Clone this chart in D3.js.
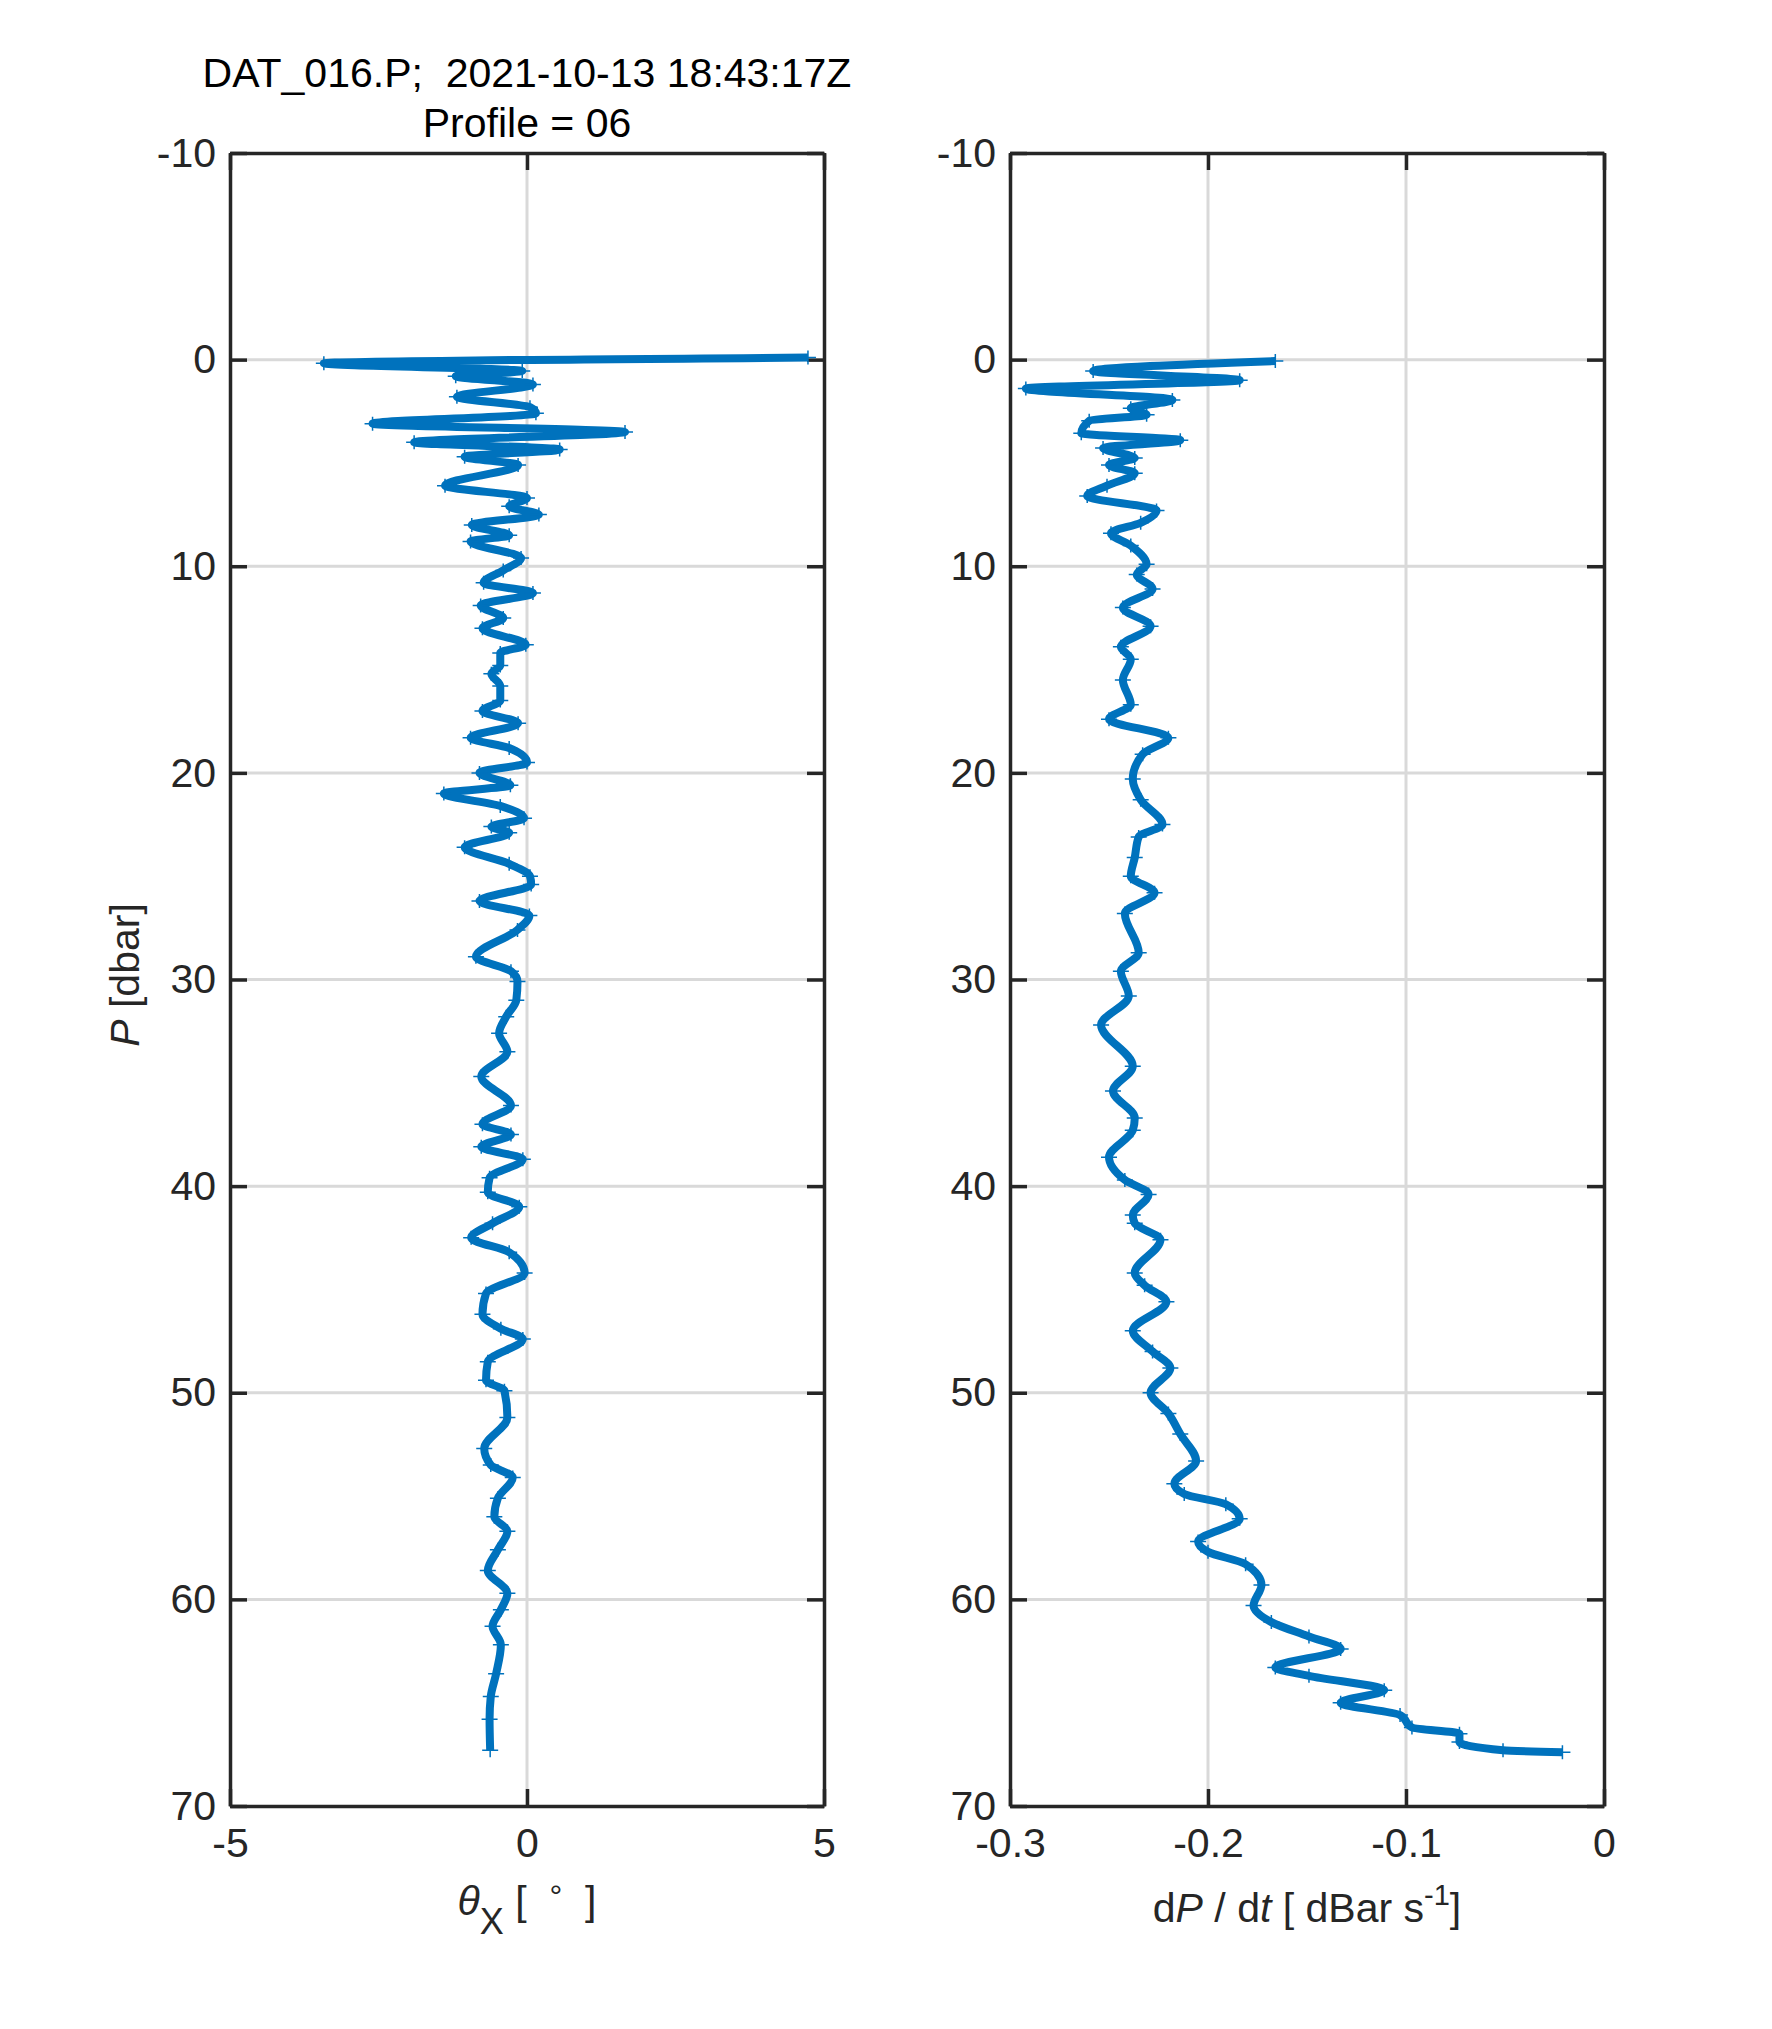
<!DOCTYPE html>
<html>
<head>
<meta charset="utf-8">
<script src="https://cdn.jsdelivr.net/npm/d3@7"></script>
<style>
  body { margin: 0; background: #fff; }
  svg { font-family: "Liberation Sans", Arial, Helvetica, sans-serif; }
</style>
</head>
<body>
<div id="chart"></div>
<script>
// tick labels
const pTicks = [-10, 0, 10, 20, 30, 40, 50, 60, 70];
const thetaTicks = [-5, 0, 5];
const dpdtTicks = [-0.3, -0.2, -0.1, 0];

// left panel: tilt angle theta_X vs pressure
const thetaP = [-0.1, 0.18, 0.55, 0.8, 1.2, 1.8, 2.3, 2.6, 3.1, 3.5, 4.0, 4.35, 4.7, 5.1, 6.1, 6.7, 7.1, 7.5, 8.0, 8.5,
  8.8, 9.6, 10.2, 10.8, 11.3, 11.9, 12.5, 13.0, 13.8, 14.2, 14.8, 15.2, 15.8, 16.5, 17.0, 17.6, 18.3, 18.8, 19.5, 20.0,
  20.6, 21.0, 21.6, 22.2, 22.6, 22.9, 23.6, 24.4, 25.0, 25.4, 26.2, 26.9, 27.6, 28.9, 29.6, 30.1, 31.0, 31.8, 32.6, 33.5,
  34.7, 36.1, 37.0, 37.5, 38.1, 38.7, 39.6, 40.3, 41.0, 41.8, 42.5, 43.2, 44.2, 45.2, 46.2, 46.9, 47.4, 48.5, 49.4, 49.9,
  51.2, 52.7, 53.5, 54.1, 55.1, 56.0, 56.7, 57.6, 58.6, 59.7, 60.5, 61.3, 62.2, 63.6, 64.7, 65.8, 67.3];
const thetaX = [4.73, -3.42, -0.08, -1.2, 0.1, -1.18, 0.05, 0.15, -2.6, 1.65, -1.9, 0.55, -1.05, -0.15, -1.38, 0.0, -0.3, 0.2, -0.93, -0.3,
  -0.95, -0.1, -0.4, -0.73, 0.1, -0.78, -0.4, -0.75, -0.02, -0.45, -0.45, -0.6, -0.45, -0.45, -0.75, -0.15, -0.95, -0.3, 0.0, -0.8,
  -0.28, -1.4, -0.45, -0.05, -0.6, -0.3, -1.05, -0.3, 0.05, 0.07, -0.8, 0.04, -0.16, -0.86, -0.27, -0.16, -0.18, -0.35, -0.47, -0.33,
  -0.77, -0.27, -0.75, -0.27, -0.77, -0.07, -0.63, -0.66, -0.13, -0.58, -0.94, -0.3, -0.04, -0.69, -0.75, -0.44, -0.07, -0.66, -0.69, -0.38,
  -0.33, -0.72, -0.61, -0.24, -0.49, -0.55, -0.33, -0.49, -0.66, -0.33, -0.44, -0.58, -0.44, -0.52, -0.61, -0.63, -0.62];

// right panel: fall rate dP/dt vs pressure
const dpdtP = [0.07, 0.55, 1.0, 1.4, 1.95, 2.35, 2.67, 2.96, 3.56, 3.9, 4.28, 4.76, 5.1, 5.5, 6.1, 6.6, 7.3, 7.9, 8.4, 9.0,
  9.9, 10.4, 11.1, 12.0, 12.9, 13.9, 14.5, 15.5, 16.7, 17.4, 18.3, 19.1, 20.3, 21.3, 22.5, 23.1, 24.1, 25.0, 25.8, 26.8,
  28.7, 29.6, 30.8, 32.2, 34.2, 35.4, 36.7, 37.3, 38.6, 39.7, 40.4, 41.4, 41.8, 42.6, 44.2, 44.8, 45.6, 47.0, 48.0, 48.8,
  50.0, 51.0, 52.0, 53.3, 54.4, 54.9, 55.4, 56.1, 57.2, 57.7, 58.3, 59.3, 60.3, 61.1, 61.8, 62.4, 63.3, 63.7, 64.4, 65.0,
  65.6, 66.2, 66.5, 66.9, 67.3, 67.4];
const dpdtV = [-0.166, -0.258, -0.184, -0.292, -0.218, -0.239, -0.231, -0.26, -0.264, -0.214, -0.253, -0.237, -0.25, -0.237, -0.251, -0.261, -0.226, -0.234, -0.249, -0.239,
  -0.231, -0.236, -0.228, -0.243, -0.229, -0.244, -0.239, -0.243, -0.239, -0.25, -0.22, -0.233, -0.238, -0.234, -0.223, -0.235, -0.237, -0.239, -0.227, -0.242,
  -0.235, -0.244, -0.24, -0.254, -0.238, -0.248, -0.237, -0.238, -0.25, -0.242, -0.23, -0.238, -0.237, -0.224, -0.237, -0.232, -0.221, -0.238, -0.228, -0.219,
  -0.229, -0.22, -0.214, -0.206, -0.217, -0.212, -0.191, -0.184, -0.205, -0.2, -0.181, -0.173, -0.177, -0.168, -0.149, -0.133, -0.166, -0.149, -0.111, -0.133,
  -0.103, -0.097, -0.073, -0.073, -0.051, -0.021];

const width = 1772, height = 2029;
const plotTop = 153, plotBottom = 1806;
const ink = "#262626";
const blue = "#0072BD";

const svg = d3.select("#chart")
  .append("svg")
  .attr("width", width)
  .attr("height", height);

const y = d3.scaleLinear().domain([-10, 70]).range([plotTop, plotBottom]);

function drawPanel(x0, x1, domain, ticks, pressures, values) {
  const x = d3.scaleLinear().domain(domain).range([x0, x1]);
  const g = svg.append("g");

  // grid
  g.selectAll(".gx")
    .data(ticks.filter(t => t !== domain[0] && t !== domain[1]))
    .enter().append("line")
    .attr("x1", d => x(d)).attr("x2", d => x(d))
    .attr("y1", plotTop).attr("y2", plotBottom)
    .attr("stroke", "#d9d9d9").attr("stroke-width", 3);
  g.selectAll(".gy")
    .data(pTicks.filter(t => t !== -10 && t !== 70))
    .enter().append("line")
    .attr("x1", x0).attr("x2", x1)
    .attr("y1", d => y(d)).attr("y2", d => y(d))
    .attr("stroke", "#d9d9d9").attr("stroke-width", 3);

  // axes, ticks inside on all four sides
  const axes = [
    g.append("g").attr("transform", `translate(0,${plotBottom})`)
      .call(d3.axisBottom(x).tickValues(ticks).tickSize(-17).tickSizeOuter(0).tickPadding(22).tickFormat(d => String(d))),
    g.append("g").attr("transform", `translate(0,${plotTop})`)
      .call(d3.axisTop(x).tickValues(ticks).tickSize(-17).tickSizeOuter(0).tickFormat("")),
    g.append("g").attr("transform", `translate(${x0},0)`)
      .call(d3.axisLeft(y).tickValues(pTicks).tickSize(-17).tickSizeOuter(0).tickPadding(14).tickFormat(d => String(d))),
    g.append("g").attr("transform", `translate(${x1},0)`)
      .call(d3.axisRight(y).tickValues(pTicks).tickSize(-17).tickSizeOuter(0).tickFormat(""))
  ];
  axes.forEach(a => {
    a.select(".domain").attr("stroke", ink).attr("stroke-width", 3.5);
    a.selectAll(".tick line").attr("stroke", ink).attr("stroke-width", 3.5);
    a.selectAll(".tick text").attr("fill", ink).style("font-size", "41px");
  });

  // profile
  const pts = pressures.map((p, i) => ({ p, v: values[i] }));
  const line = d3.line()
    .x(d => x(d.v))
    .y(d => y(d.p))
    .curve(d3.curveMonotoneY);

  g.append("path")
    .datum(pts)
    .attr("d", line)
    .attr("fill", "none")
    .attr("stroke", blue)
    .attr("stroke-width", 8)
    .attr("stroke-linejoin", "round");

  g.selectAll(".mk")
    .data(pts)
    .enter().append("path")
    .attr("transform", d => `translate(${x(d.v)},${y(d.p)})`)
    .attr("d", "M-8,0H8M0,-7V7")
    .attr("stroke", blue)
    .attr("stroke-width", 1.5);

  return x;
}

drawPanel(230, 824, [-5, 5], thetaTicks, thetaP, thetaX);
drawPanel(1010, 1604, [-0.3, 0], dpdtTicks, dpdtP, dpdtV);

// title
svg.append("text")
  .attr("x", 527).attr("y", 87)
  .attr("text-anchor", "middle")
  .style("font-size", "41px").style("white-space", "pre")
  .attr("fill", "#000")
  .text("DAT_016.P;  2021-10-13 18:43:17Z");
svg.append("text")
  .attr("x", 527).attr("y", 137)
  .attr("text-anchor", "middle")
  .style("font-size", "41px")
  .attr("fill", "#000")
  .text("Profile = 06");

// y label
const yl = svg.append("text")
  .attr("transform", "translate(139,975) rotate(-90)")
  .attr("text-anchor", "middle")
  .style("font-size", "41px")
  .style("white-space", "pre")
  .attr("fill", ink);
yl.append("tspan").style("font-style", "italic").text("P");
yl.append("tspan").text(" [dbar]");

// x label, left
const xl = svg.append("text")
  .attr("x", 527).attr("y", 1915)
  .attr("text-anchor", "middle")
  .style("font-size", "41px")
  .style("white-space", "pre")
  .attr("fill", ink);
xl.append("tspan").style("font-style", "italic").text("θ");
xl.append("tspan").attr("dy", 19).style("font-size", "36px").text("X");
xl.append("tspan").attr("dy", -19).text(" [  ");
xl.append("tspan").attr("dy", -8).style("font-size", "32px").text("°");
xl.append("tspan").attr("dy", 8).text("  ]");

// x label, right
const xr = svg.append("text")
  .attr("x", 1307).attr("y", 1922)
  .attr("text-anchor", "middle")
  .style("font-size", "41px")
  .style("white-space", "pre")
  .attr("fill", ink);
xr.append("tspan").text("d");
xr.append("tspan").style("font-style", "italic").text("P");
xr.append("tspan").text(" / d");
xr.append("tspan").style("font-style", "italic").text("t");
xr.append("tspan").text(" [ dBar s");
xr.append("tspan").attr("dy", -17).style("font-size", "29px").text("-1");
xr.append("tspan").attr("dy", 17).text("]");
</script>
</body>
</html>
